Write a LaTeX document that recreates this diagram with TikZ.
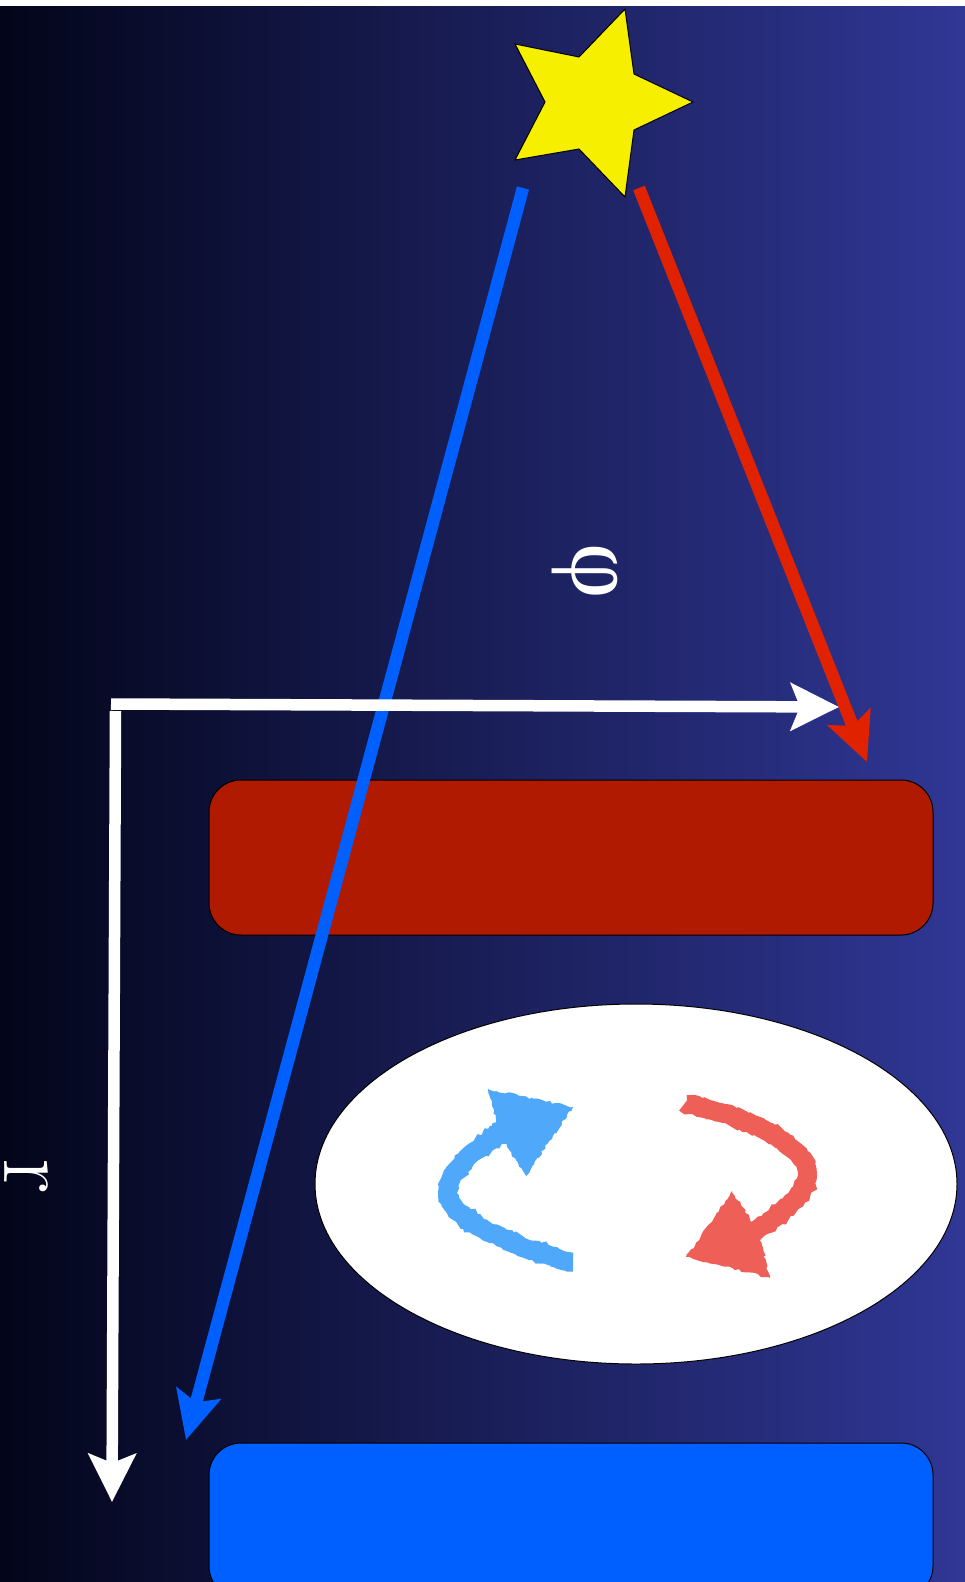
\documentclass[tikz,border=0pt]{standalone}
\usepackage{fontspec}
\newfontfamily\phifont{Liberation Serif}
\usetikzlibrary{arrows.meta,decorations.pathmorphing}
\definecolor{skyleft}{HTML}{03051A}
\definecolor{skyright}{HTML}{303795}
\definecolor{starfill}{HTML}{F7EF00}
\definecolor{rayblue}{HTML}{0060FF}
\definecolor{rayred}{HTML}{E02200}
\definecolor{boxred}{HTML}{B01A00}
\definecolor{swirlblue}{HTML}{50A8FB}
\definecolor{swirlred}{HTML}{EE5F58}
\tikzset{
  bandbox/.style={draw=black, line width=1pt, rounded corners=32pt},
  ray/.style={line width=12.5pt, -{Stealth[length=48pt,width=45pt,inset=9pt]}},
  axisline/.style={white, line width=11.5pt, -{Stealth[length=48pt,width=47pt,inset=9pt]}},
  rough/.style={decorate, decoration={random steps, segment length=3pt, amplitude=1.3pt}},
  swirl/.style={rough, line width=19pt},
  swirlhead/.style={rough, line width=1pt, line join=round},
  glyph/.style={white, inner sep=0pt, rotate=-90}
}
\begin{document}
\begin{tikzpicture}[x=1pt, y=-1pt]
  \clip (0,0) rectangle (965,1582);
  \fill[white] (0,0) rectangle (965,6);
  \fill[left color=skyleft, right color=skyright] (0,6) rectangle (965,1582);
  % bands and the disc between them
  \draw[bandbox, fill=boxred] (209,780) rectangle (933,935);
  \draw[bandbox, fill=rayblue] (209,1443) rectangle (933,1598);
  \draw[black, fill=white, line width=1pt] (636,1184) ellipse (321pt and 180pt);
  % star
  \draw[black, fill=starfill, line width=1pt] (625,9) -- (634,74) -- (693,102) -- (634,130) -- (625,197)
    -- (579,149) -- (515,160) -- (545,102) -- (515,44) -- (579,57) -- cycle;
  % rays
  \draw[ray, rayblue] (523,188) -- (186,1440);
  \draw[ray, rayred] (639,188) -- (867,762);
  % axes
  \draw[axisline] (111,704) -- (839,707);
  \draw[axisline] (115.5,711) -- (112,1502);
  \node[glyph, font=\phifont\fontsize{96}{96}\selectfont] (phi) at (585,571) {φ};
  \node[glyph, font=\fontsize{100}{100}\selectfont] (rad) at (26,1176) {r};
  % hand drawn circulation arrows
  \draw[swirl, swirlblue] (573,1262) .. controls (535,1253) and (487,1236) .. (460,1213)
    .. controls (450,1204) and (448,1197) .. (448,1190) .. controls (448,1172) and (475,1150) .. (510,1126);
  \fill[swirlhead, swirlblue] (488,1089) -- (573,1107) -- (526,1176) -- (507,1147) -- (498,1127) -- cycle;
  \draw[swirl, swirlred] (685,1103) .. controls (720,1110) and (760,1125) .. (777,1137)
    .. controls (795,1148) and (807,1160) .. (807,1173) .. controls (807,1195) and (785,1212) .. (745,1238);
  \fill[swirlhead, swirlred] (732,1191) -- (686,1257) -- (770,1278) -- (760,1237) -- (753,1223) -- cycle;
\end{tikzpicture}
\end{document}
